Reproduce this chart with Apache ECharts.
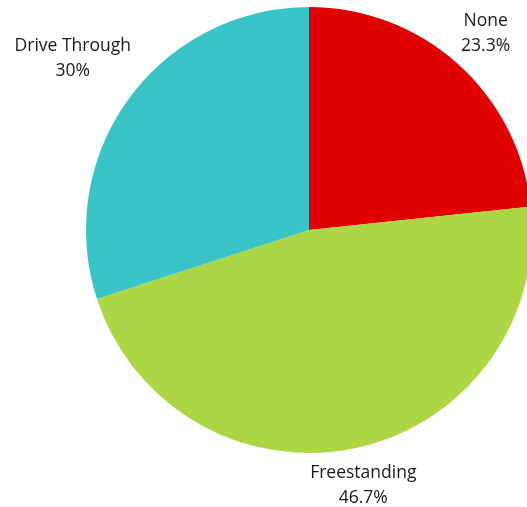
<!DOCTYPE html>
<html><head><meta charset="utf-8">
<script src="https://cdn.jsdelivr.net/npm/echarts@6/dist/echarts.min.js"></script>
<style>html,body{margin:0;padding:0;background:#fff}#c{width:527px;height:507px}</style>
</head><body><div id="c"></div>
<script>
const categories = ['None', 'Freestanding', 'Drive Through'];
const values = [7, 14, 9];
const colors = ['#E00000', '#ADD645', '#3BC4C8'];
const labelDistance = [264, 261, 292];

const CX = 309, CY = 230, R = 223;
const total = values.reduce((a, b) => a + b, 0);
const midAngles = [];
let acc = 0;
values.forEach(v => { midAngles.push(90 - (acc + v / 2) / total * 360); acc += v; });

const chart = echarts.init(document.getElementById('c'), null, {renderer: 'canvas'});
chart.setOption({
  animation: false,
  series: [{
    type: 'pie',
    center: [CX, CY],
    radius: R,
    startAngle: 90,
    clockwise: true,
    percentPrecision: 1,
    data: categories.map((c, i) => ({name: c, value: values[i], itemStyle: {color: colors[i]}})),
    label: {
      show: true,
      position: 'outside',
      formatter: '{b}\n{d}%',
      fontFamily: 'Open Sans',
      fontSize: 17.5,
      lineHeight: 25,
      color: '#1a1a1a',
      align: 'center',
      overflow: 'none',
      width: 200
    },
    labelLine: {show: false},
    labelLayout: function (p) {
      const a = midAngles[p.dataIndex] * Math.PI / 180;
      const d = labelDistance[p.dataIndex];
      return {
        x: CX + d * Math.cos(a),
        y: CY - d * Math.sin(a),
        align: 'center',
        verticalAlign: 'middle'
      };
    },
    emphasis: {disabled: true}
  }]
});
</script></body></html>
